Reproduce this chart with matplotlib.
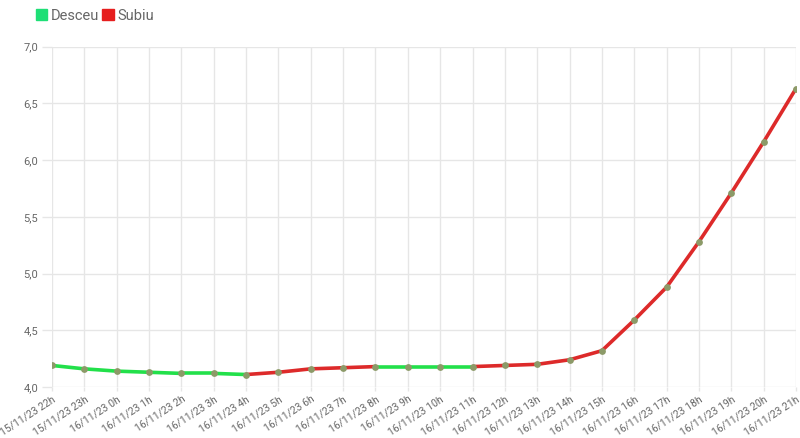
import matplotlib
matplotlib.use("Agg")
import matplotlib.pyplot as plt
from matplotlib.patches import Patch
from matplotlib.ticker import FuncFormatter

labels = [
    "15/11/23 22h", "15/11/23 23h", "16/11/23 0h", "16/11/23 1h", "16/11/23 2h",
    "16/11/23 3h", "16/11/23 4h", "16/11/23 5h", "16/11/23 6h", "16/11/23 7h",
    "16/11/23 8h", "16/11/23 9h", "16/11/23 10h", "16/11/23 11h", "16/11/23 12h",
    "16/11/23 13h", "16/11/23 14h", "16/11/23 15h", "16/11/23 16h", "16/11/23 17h",
    "16/11/23 18h", "16/11/23 19h", "16/11/23 20h", "16/11/23 21h",
]
values = [
    4.19, 4.16, 4.14, 4.13, 4.12, 4.12, 4.11, 4.13, 4.16, 4.17,
    4.18, 4.18, 4.18, 4.18, 4.19, 4.20, 4.24, 4.32, 4.59, 4.88,
    5.28, 5.71, 6.16, 6.63,
]
legend_names = ["Desceu", "Subiu"]

GREEN = "#22e04a"
RED = "#dd2a2a"
POINT = "#8c9a68"
TEXT = "#666666"
GRID = "#e6e6e6"

plt.rcParams["font.family"] = ["Roboto", "DejaVu Sans"]

fig = plt.figure(figsize=(8, 4.38), dpi=100)
ax = fig.add_axes([0.065, 0.1164, 0.93, 0.7774])

x = list(range(len(values)))
# each segment is red if the value goes up, green otherwise
for i in range(len(values) - 1):
    color = RED if values[i + 1] > values[i] else GREEN
    ax.plot(x[i:i + 2], values[i:i + 2], color=color, linewidth=2.6,
            solid_capstyle="round", zorder=2)
ax.scatter(x, values, s=24, color=POINT, zorder=3, linewidths=0)

ax.set_xlim(0, len(values) - 1)
ax.set_ylim(4.0, 7.0)
ax.set_yticks([4.0, 4.5, 5.0, 5.5, 6.0, 6.5, 7.0])
ax.yaxis.set_major_formatter(FuncFormatter(lambda v, p: f"{v:.1f}".replace(".", ",")))
ax.set_xticks(x)
ax.set_xticklabels(labels, rotation=33, ha="right", rotation_mode="anchor")

ax.grid(True, color=GRID, linewidth=1)
ax.set_axisbelow(True)
for s in ax.spines.values():
    s.set_visible(False)
ax.tick_params(axis="both", colors=GRID, labelcolor=TEXT, labelsize=7.5,
               width=1)
ax.tick_params(axis="y", length=7, pad=3, labelsize=8)
ax.tick_params(axis="x", length=3, pad=2)

handles = [Patch(facecolor="#1edf76", edgecolor="#1edf76", label=legend_names[0]),
           Patch(facecolor="#e61e1e", edgecolor="#e61e1e", label=legend_names[1])]
fig.legend(handles=handles, loc="upper left", bbox_to_anchor=(0.028, 1.01),
           ncol=2, frameon=False, fontsize=10.5, labelcolor=TEXT,
           handlelength=0.8, handleheight=0.8, handletextpad=0.25,
           columnspacing=0.2)

fig.savefig("out.png", dpi=100)
